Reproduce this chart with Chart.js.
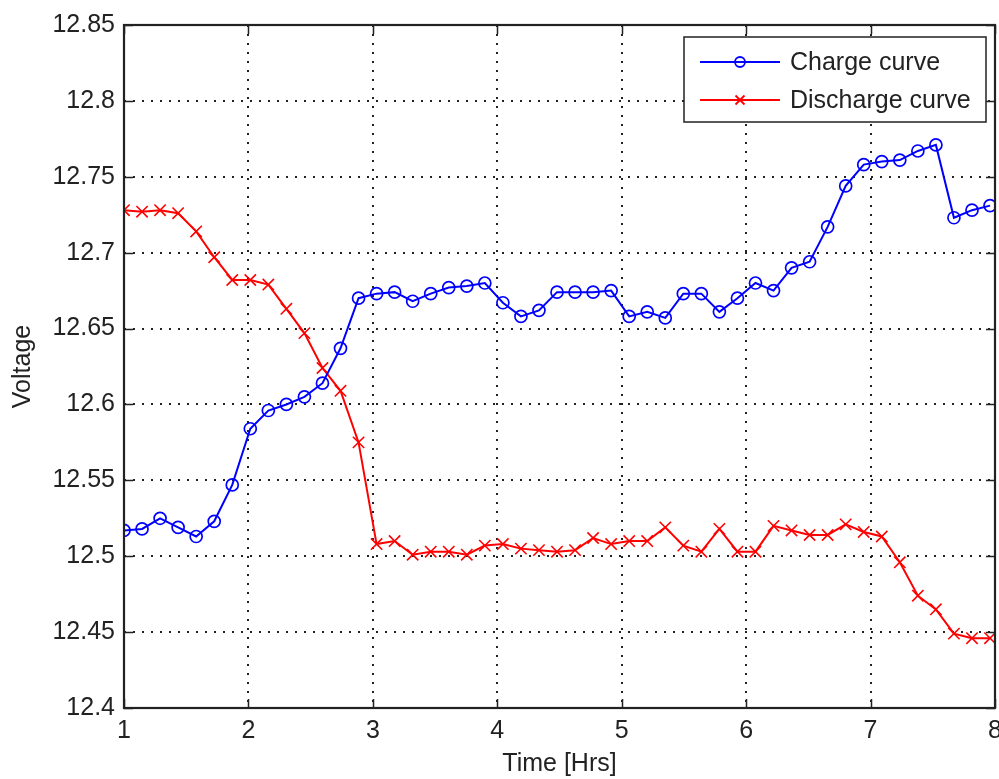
<!DOCTYPE html>
<html>
<head>
<meta charset="utf-8">
<script src="https://cdn.jsdelivr.net/npm/chart.js@4.4.1/dist/chart.umd.min.js"></script>
<style>
  html, body { margin: 0; padding: 0; background: #fff; }
  #wrap { width: 999px; height: 779px; }
</style>
</head>
<body>
<div id="wrap"><canvas id="voltChart" width="999" height="779"></canvas></div>
<script>
// time axis (hours), one sample every ~0.145 h
const times = [1.000, 1.145, 1.290, 1.435, 1.580, 1.725, 1.870, 2.015, 2.160, 2.305,
               2.450, 2.595, 2.740, 2.885, 3.030, 3.175, 3.320, 3.465, 3.610, 3.755,
               3.900, 4.045, 4.190, 4.335, 4.480, 4.625, 4.770, 4.915, 5.060, 5.205,
               5.350, 5.495, 5.640, 5.785, 5.930, 6.075, 6.220, 6.365, 6.510, 6.655,
               6.800, 6.945, 7.090, 7.235, 7.380, 7.525, 7.670, 7.815, 7.960];

const chargeV = [12.517, 12.518, 12.525, 12.519, 12.513, 12.523, 12.547, 12.584, 12.596, 12.600,
                 12.605, 12.614, 12.637, 12.670, 12.673, 12.674, 12.668, 12.673, 12.677, 12.678,
                 12.680, 12.667, 12.658, 12.662, 12.674, 12.674, 12.674, 12.675, 12.658, 12.661,
                 12.657, 12.673, 12.673, 12.661, 12.670, 12.680, 12.675, 12.690, 12.694, 12.717,
                 12.744, 12.758, 12.760, 12.761, 12.767, 12.771, 12.723, 12.728, 12.731];

const dischargeV = [12.728, 12.727, 12.728, 12.726, 12.714, 12.697, 12.682, 12.682, 12.679, 12.663,
                    12.647, 12.624, 12.609, 12.575, 12.508, 12.510, 12.501, 12.503, 12.503, 12.501,
                    12.507, 12.508, 12.505, 12.504, 12.503, 12.504, 12.512, 12.508, 12.510, 12.510,
                    12.519, 12.507, 12.503, 12.518, 12.503, 12.503, 12.520, 12.517, 12.514, 12.514,
                    12.521, 12.516, 12.513, 12.496, 12.474, 12.465, 12.449, 12.446, 12.446];

const xTicks = [1, 2, 3, 4, 5, 6, 7, 8];
const yTicks = [12.4, 12.45, 12.5, 12.55, 12.6, 12.65, 12.7, 12.75, 12.8, 12.85];
const yTickLabels = ['12.4', '12.45', '12.5', '12.55', '12.6', '12.65', '12.7', '12.75', '12.8', '12.85'];

const seriesNames = ['Charge curve', 'Discharge curve'];

const FONT = "'Liberation Sans', Arial, sans-serif";
const INK = '#222';

function toPoints(ys) {
    return ys.map((v, i) => ({ x: times[i], y: v }));
}

// box, inner ticks on all four sides
const frameTicks = {
    id: 'frameTicks',
    afterDatasetsDraw(chart) {
        const { ctx, chartArea: a, scales } = chart;
        const tl = 9;
        ctx.save();
        ctx.strokeStyle = INK;
        ctx.lineWidth = 1.5;
        ctx.beginPath();
        xTicks.forEach(t => {
            let px = Math.round(scales.x.getPixelForValue(t)) + 0.5;
            ctx.moveTo(px, a.bottom); ctx.lineTo(px, a.bottom - tl);
            ctx.moveTo(px, a.top); ctx.lineTo(px, a.top + tl);
        });
        yTicks.forEach(t => {
            let py = Math.round(scales.y.getPixelForValue(t)) + 0.5;
            ctx.moveTo(a.left, py); ctx.lineTo(a.left + tl, py);
            ctx.moveTo(a.right, py); ctx.lineTo(a.right - tl, py);
        });
        ctx.stroke();
        ctx.lineWidth = 2.2;
        ctx.strokeRect(a.left, a.top, a.right - a.left, a.bottom - a.top);
        ctx.restore();
    }
};

// matlab style legend: line + marker sample
const boxLegend = {
    id: 'boxLegend',
    afterDraw(chart) {
        const { ctx, chartArea: a } = chart;
        const w = 302, h = 85;
        const bx = a.right - 9 - w, by = a.top + 12;
        ctx.save();
        ctx.fillStyle = '#fff';
        ctx.fillRect(bx, by, w, h);
        ctx.strokeStyle = INK;
        ctx.lineWidth = 1.5;
        ctx.strokeRect(bx, by, w, h);
        ctx.font = '25px ' + FONT;
        ctx.textBaseline = 'middle';
        chart.data.datasets.forEach((ds, i) => {
            const cy = by + 25 + i * 38;
            const x0 = bx + 16, x1 = bx + 96, mx = (x0 + x1) / 2;
            ctx.strokeStyle = ds.borderColor;
            ctx.lineWidth = 1.8;
            ctx.beginPath();
            ctx.moveTo(x0, cy); ctx.lineTo(x1, cy);
            ctx.stroke();
            ctx.beginPath();
            if (ds.pointStyle === 'circle') {
                ctx.arc(mx, cy, 5, 0, Math.PI * 2);
            } else {
                ctx.moveTo(mx - 4.5, cy - 4.5); ctx.lineTo(mx + 4.5, cy + 4.5);
                ctx.moveTo(mx + 4.5, cy - 4.5); ctx.lineTo(mx - 4.5, cy + 4.5);
            }
            ctx.stroke();
            ctx.fillStyle = INK;
            ctx.fillText(ds.label, bx + 106, cy + 1);
        });
        ctx.restore();
    }
};

const gridOpts = { color: '#222', lineWidth: 2, drawTicks: false };
const borderOpts = { display: false, dash: [2, 7] };

const ctx = document.getElementById('voltChart').getContext('2d');
new Chart(ctx, {
    type: 'line',
    data: {
        datasets: [{
            label: seriesNames[0],
            data: toPoints(chargeV),
            borderColor: '#0000ff',
            backgroundColor: 'rgba(0,0,0,0)',
            borderWidth: 2,
            pointStyle: 'circle',
            pointRadius: 6,
            pointBorderWidth: 1.7,
            pointBackgroundColor: 'rgba(0,0,0,0)',
            pointBorderColor: '#0000ff',
            tension: 0,
            clip: 0
        }, {
            label: seriesNames[1],
            data: toPoints(dischargeV),
            borderColor: '#ff0000',
            backgroundColor: 'rgba(0,0,0,0)',
            borderWidth: 2,
            pointStyle: 'crossRot',
            pointRadius: 8,
            pointBorderWidth: 1.6,
            pointBorderColor: '#ff0000',
            tension: 0,
            clip: 0
        }]
    },
    options: {
        responsive: false,
        animation: false,
        devicePixelRatio: 1,
        layout: { autoPadding: false, padding: { top: 25, right: 4, left: 0, bottom: 0 } },
        plugins: {
            legend: { display: false },
            tooltip: { enabled: false }
        },
        scales: {
            x: {
                type: 'linear',
                min: 1, max: 8,
                afterBuildTicks: s => { s.ticks = xTicks.map(v => ({ value: v })); },
                afterFit: s => { s.height = 71; s.paddingLeft = 0; s.paddingRight = 0; },
                grid: gridOpts,
                border: borderOpts,
                ticks: { color: INK, font: { family: FONT, size: 25 }, padding: 8, maxRotation: 0, autoSkip: false },
                title: { display: true, text: 'Time [Hrs]', color: INK, font: { family: FONT, size: 25 }, padding: { top: 0, bottom: 0 } }
            },
            y: {
                type: 'linear',
                min: 12.4, max: 12.85,
                afterBuildTicks: s => { s.ticks = yTicks.map(v => ({ value: v })); },
                afterFit: s => { s.width = 124; s.paddingTop = 0; s.paddingBottom = 0; },
                grid: gridOpts,
                border: borderOpts,
                ticks: {
                    color: INK, font: { family: FONT, size: 25 }, padding: 9, autoSkip: false,
                    callback: v => yTickLabels[yTicks.findIndex(t => Math.abs(t - v) < 1e-6)]
                },
                title: { display: true, text: 'Voltage', color: INK, font: { family: FONT, size: 25 }, padding: { top: 8, bottom: 0 } }
            }
        }
    },
    plugins: [frameTicks, boxLegend]
});
</script>
</body>
</html>
